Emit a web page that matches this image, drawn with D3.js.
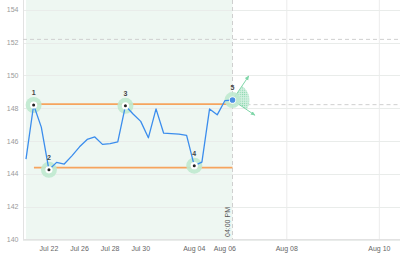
<!DOCTYPE html>
<html><head><meta charset="utf-8">
<script src="https://cdn.jsdelivr.net/npm/d3@7"></script>
<style>body{margin:0;background:#fff}svg{display:block;font-family:"Liberation Sans",Arial,sans-serif}</style>
</head><body><svg id="c" width="400" height="259"></svg>
<script>
// ---- data ----
const prices = [144.9,148.2,146.85,144.25,144.7,144.6,145.1,145.65,146.1,146.25,145.8,145.85,145.95,148.15,147.65,147.2,146.2,147.96,146.48,146.45,146.42,146.35,144.5,144.72,147.96,147.6,148.46,148.5];
const tickIndex = [3,7,11,15,22,26,34.1,46.2];
const tickLabels = ["Jul 22","Jul 26","Jul 28","Jul 30","Aug 04","Aug 06","Aug 08","Aug 10"];
const yTicks = [140,142,144,146,148,150,152,154];
const pivotIdx = [1,3,13,22,27];
const pivotLabels = ["1","2","3","4","5"];
const resistance = 148.25, support = 144.38;
const dashedLevels = [152.2];
const lastPriceLevel = 148.22;
const sessionLabel = "04:00 PM";

const svg = d3.select("#c");
const W = 400, H = 259;
const x = d3.scaleLinear().domain([0, 48.9]).range([26, 400]);
const y = d3.scaleLinear().domain([140, 154.6]).range([239.5, 0]);
const lastI = prices.length - 1;

// vertical grid
svg.append("g").selectAll("line").data(tickIndex).join("line")
  .attr("x1", d => x(d)).attr("x2", d => x(d)).attr("y1", 0).attr("y2", y(140))
  .attr("stroke", "#ececec").attr("stroke-width", 1);

// shaded session region
svg.append("rect").attr("x", x(0)).attr("y", 0)
  .attr("width", x(lastI) - x(0)).attr("height", y(140))
  .attr("fill", "#eef7f2");

// horizontal grid
svg.append("g").selectAll("line").data(yTicks).join("line")
  .attr("x1", 23).attr("x2", W).attr("y1", d => Math.round(y(d)) + 0.5).attr("y2", d => Math.round(y(d)) + 0.5)
  .attr("stroke", "#e9ecea").attr("stroke-width", 1);

// axes lines
svg.append("line").attr("x1", 23.5).attr("x2", 23.5).attr("y1", 0).attr("y2", y(140)).attr("stroke", "#e2e2e2");
svg.append("line").attr("x1", 23).attr("x2", W).attr("y1", y(140)).attr("y2", y(140)).attr("stroke", "#e2e2e2");

// y labels
svg.append("g").selectAll("text").data(yTicks).join("text")
  .attr("x", 18.5).attr("y", d => y(d) + 2.5).attr("text-anchor", "end")
  .attr("font-size", 7).attr("fill", "#9a9a9a").text(d => d);

// x labels
svg.append("g").selectAll("text").data(tickIndex).join("text")
  .attr("x", (d) => x(d)).attr("y", 251).attr("text-anchor", "middle")
  .attr("font-size", 7).attr("fill", "#666").text((d, i) => tickLabels[i]);

// dashed levels
svg.append("g").selectAll("line").data(dashedLevels).join("line")
  .attr("x1", 23).attr("x2", W).attr("y1", d => y(d)).attr("y2", d => y(d))
  .attr("stroke", "#cfcfcf").attr("stroke-dasharray", "4,3").attr("stroke-width", 1);
svg.append("line").attr("x1", x(lastI)).attr("x2", W).attr("y1", y(lastPriceLevel)).attr("y2", y(lastPriceLevel))
  .attr("stroke", "#cfcfcf").attr("stroke-dasharray", "4,3").attr("stroke-width", 1);

// session divider
svg.append("line").attr("x1", x(lastI)).attr("x2", x(lastI)).attr("y1", 0).attr("y2", y(140))
  .attr("stroke", "#cfcfcf").attr("stroke-dasharray", "4,3");
svg.append("text").attr("transform", `translate(${x(lastI) - 2.5},237) rotate(-90)`)
  .attr("font-size", 7).attr("fill", "#555").text(sessionLabel);

// support/resistance
svg.append("line").attr("x1", x(pivotIdx[0])).attr("x2", x(lastI)).attr("y1", y(resistance)).attr("y2", y(resistance))
  .attr("stroke", "#f6a45e").attr("stroke-width", 1.6);
svg.append("line").attr("x1", x(pivotIdx[1]) - 15).attr("x2", x(lastI)).attr("y1", y(support)).attr("y2", y(support))
  .attr("stroke", "#f6a45e").attr("stroke-width", 1.6);

// fan at last pivot
const defs = svg.append("defs");
const pat = defs.append("pattern").attr("id", "dots").attr("width", 2.2).attr("height", 2.2).attr("patternUnits", "userSpaceOnUse");
pat.append("rect").attr("width", 2.2).attr("height", 2.2).attr("fill", "#cdeedd");
pat.append("circle").attr("cx", 1.1).attr("cy", 1.1).attr("r", 0.55).attr("fill", "#6fcf9b");
const mk = defs.append("marker").attr("id", "ah").attr("viewBox", "0 0 10 10").attr("refX", 8).attr("refY", 5)
  .attr("markerWidth", 5).attr("markerHeight", 5).attr("orient", "auto");
mk.append("path").attr("d", "M0,1 L9,5 L0,9 z").attr("fill", "#7fd6a8");
const cx5 = x(lastI), cy5 = y(prices[lastI]);
const a1 = -56 * Math.PI / 180, a2 = 34 * Math.PI / 180;
const arc = d3.arc().innerRadius(0).outerRadius(17).startAngle(a1 + Math.PI / 2).endAngle(a2 + Math.PI / 2);
svg.append("path").attr("transform", `translate(${cx5},${cy5})`).attr("d", arc()).attr("fill", "url(#dots)").attr("opacity", 0.9);
[[a1, 29], [a2, 27]].forEach(([a, L]) => {
  svg.append("line").attr("x1", cx5).attr("y1", cy5).attr("x2", cx5 + L * Math.cos(a)).attr("y2", cy5 + L * Math.sin(a))
    .attr("stroke", "#7fd6a8").attr("stroke-width", 1).attr("marker-end", "url(#ah)");
});

// halos
svg.append("g").selectAll("circle").data(pivotIdx).join("circle")
  .attr("cx", d => x(d)).attr("cy", d => y(prices[d])).attr("r", 8).attr("fill", "#bfe9cf").attr("opacity", 0.9);

// price line
svg.append("path").datum(prices)
  .attr("d", d3.line().x((d, i) => x(i)).y(d => y(d)))
  .attr("fill", "none").attr("stroke", "#3b8ded").attr("stroke-width", 1.3).attr("stroke-linejoin", "round");

// pivot markers
svg.append("g").selectAll("circle").data(pivotIdx).join("circle")
  .attr("cx", d => x(d)).attr("cy", d => y(prices[d])).attr("r", 3.6).attr("fill", "#fff");
svg.append("g").selectAll("circle").data(pivotIdx).join("circle")
  .attr("cx", d => x(d)).attr("cy", d => y(prices[d]))
  .attr("r", (d, i) => i === pivotIdx.length - 1 ? 2.8 : 1.5)
  .attr("fill", (d, i) => i === pivotIdx.length - 1 ? "#4a8fe3" : "#222");
svg.append("g").selectAll("text").data(pivotIdx).join("text")
  .attr("x", d => x(d)).attr("y", d => y(prices[d]) - 10).attr("text-anchor", "middle")
  .attr("font-size", 7).attr("font-weight", "bold").attr("fill", "#444").text((d, i) => pivotLabels[i]);
</script></body></html>
